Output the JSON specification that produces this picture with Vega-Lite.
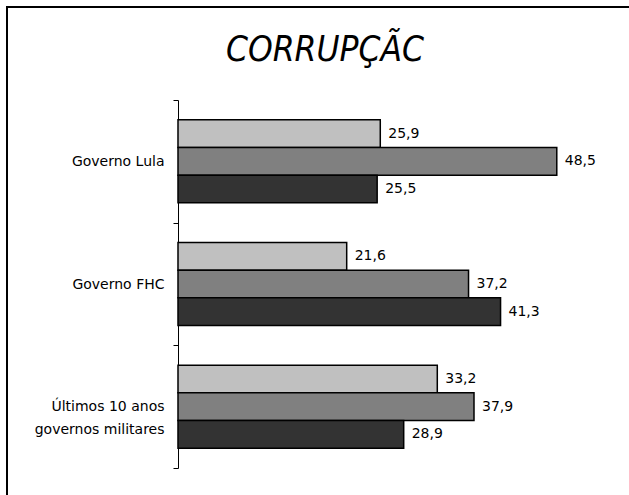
{
  "$schema": "https://vega.github.io/schema/vega-lite/v6.json",
  "width": 629,
  "height": 495,
  "autosize": {"type": "fit", "contains": "padding"},
  "padding": {"left": 7, "top": 0, "right": -4, "bottom": -4},
  "background": "white",
  "config": {
    "view": {"stroke": "black", "strokeWidth": 2},
    "locale": {"number": {"decimal": ",", "thousands": ".", "grouping": [3], "currency": ["R$", ""]}}
  },
  "title": {
    "text": "CORRUPÇÃC",
    "font": "Liberation Sans Narrow, DejaVu Sans Condensed, sans-serif",
    "fontStyle": "italic",
    "fontWeight": "normal",
    "fontSize": 35,
    "color": "black",
    "anchor": "middle",
    "frame": "group",
    "baseline": "alphabetic",
    "offset": -96,
    "dx": 5
  },
  "data": {
    "values": [
      {"grupo": "Governo Lula", "serie": "Série 1", "valor": 25.9},
      {"grupo": "Governo Lula", "serie": "Série 2", "valor": 48.5},
      {"grupo": "Governo Lula", "serie": "Série 3", "valor": 25.5},
      {"grupo": "Governo FHC", "serie": "Série 1", "valor": 21.6},
      {"grupo": "Governo FHC", "serie": "Série 2", "valor": 37.2},
      {"grupo": "Governo FHC", "serie": "Série 3", "valor": 41.3},
      {"grupo": "Últimos 10 anos governos militares", "serie": "Série 1", "valor": 33.2},
      {"grupo": "Últimos 10 anos governos militares", "serie": "Série 2", "valor": 37.9},
      {"grupo": "Últimos 10 anos governos militares", "serie": "Série 3", "valor": 28.9}
    ]
  },
  "encoding": {
    "y": {
      "field": "grupo",
      "type": "nominal",
      "sort": null,
      "scale": {"range": [93, 461], "paddingInner": 0, "paddingOuter": 0},
      "axis": {
        "title": null,
        "offset": -171,
        "tickBand": "extent",
        "tickSize": 5,
        "tickColor": "black",
        "domainColor": "black",
        "labelPadding": 9,
        "labelFont": "DejaVu Sans",
        "labelFontSize": 14,
        "labelColor": "black",
        "labelLineHeight": 23,
        "labelLimit": 300,
        "grid": false,
        "labelExpr": "datum.label == 'Últimos 10 anos governos militares' ? ['Últimos 10 anos', 'governos militares'] : datum.label"
      }
    },
    "yOffset": {
      "field": "serie",
      "type": "nominal",
      "sort": null,
      "scale": {"paddingInner": 0, "paddingOuter": 0.717}
    },
    "x": {
      "field": "valor",
      "type": "quantitative",
      "scale": {"domain": [0, 50], "range": [171, 561.5], "nice": false, "zero": true},
      "axis": null
    }
  },
  "layer": [
    {
      "mark": {"type": "bar", "stroke": "black", "strokeWidth": 1.5},
      "encoding": {
        "color": {
          "field": "serie",
          "type": "nominal",
          "scale": {"domain": ["Série 1", "Série 2", "Série 3"], "range": ["#c0c0c0", "#808080", "#333333"]},
          "legend": null
        }
      }
    },
    {
      "mark": {"type": "text", "align": "left", "baseline": "middle", "dx": 8, "font": "DejaVu Sans", "fontSize": 14, "color": "black"},
      "encoding": {
        "text": {"field": "valor", "type": "quantitative", "format": ".1f"}
      }
    }
  ]
}
